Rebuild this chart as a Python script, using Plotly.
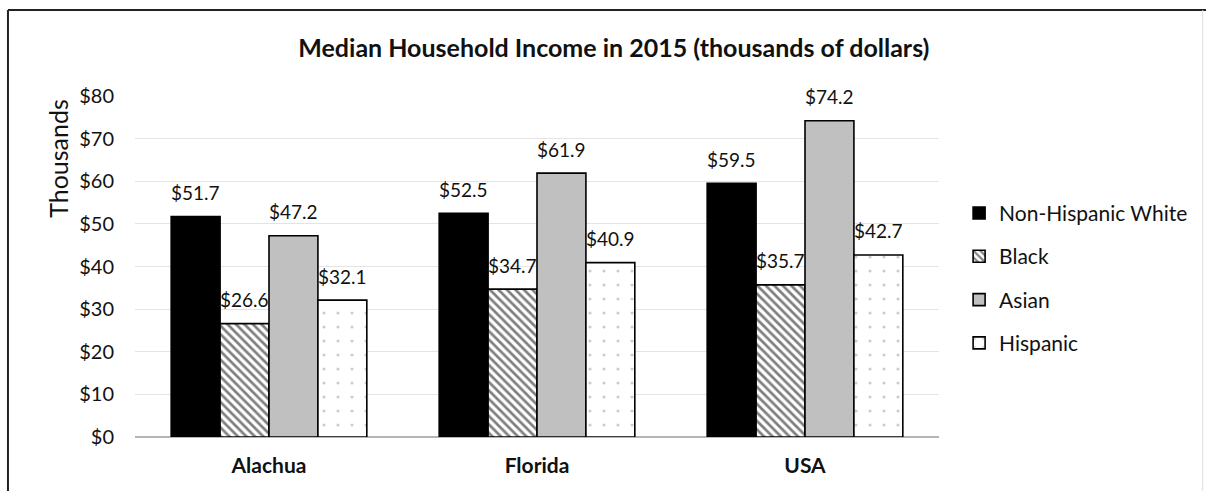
import plotly.graph_objects as go

# Median household income, 2015 (thousands of dollars)
regions = ["Alachua", "Florida", "USA"]
groups = ["Non-Hispanic White", "Black", "Asian", "Hispanic"]
white = [51.7, 52.5, 59.5]
black = [26.6, 34.7, 35.7]
asian = [47.2, 61.9, 74.2]
hispanic = [32.1, 40.9, 42.7]
y_ticks = [0, 10, 20, 30, 40, 50, 60, 70, 80]
y_tick_text = ["$0", "$10", "$20", "$30", "$40", "$50", "$60", "$70", "$80"]

series = [white, black, asian, hispanic]

FONT = "Lato"
INK = "#111111"

styles = [
    dict(color="#000000", pattern=dict(shape="")),
    dict(color="#ffffff", pattern=dict(shape="\\", fgcolor="#000000", bgcolor="#ffffff",
                                       size=6, solidity=0.45)),
    dict(color="#c0c0c0", pattern=dict(shape="")),
    dict(color="#ffffff", pattern=dict(shape=".", fgcolor="#9a9a9a", bgcolor="#ffffff",
                                       size=14, solidity=0.04)),
]

fig = go.Figure()
for i, (name, vals, st) in enumerate(zip(groups, series, styles)):
    fig.add_trace(go.Bar(
        x=regions, y=vals, name=name, legendgroup=name,
        marker=dict(color=st["color"], pattern=st["pattern"],
                    line=dict(color="#000000", width=1.6)),
        hoverinfo="x+y",
    ))

# value labels centred over each bar
plot_w = 1206 - 135 - 267
bargap = 0.27
bar_px = plot_w / len(regions) * (1 - bargap) / len(groups)
annotations = []
for i, vals in enumerate(series):
    offset = (i - (len(groups) - 1) / 2) * bar_px
    for reg, v in zip(regions, vals):
        annotations.append(dict(
            x=reg, y=v, xref="x", yref="y", text=f"${v:.1f}",
            showarrow=False, xshift=offset, yshift=24,
            font=dict(family=FONT, size=19, color=INK),
        ))

# vertical axis caption, set high on the left
annotations.append(dict(
    x=-0.096, xref="paper", xanchor="center",
    y=(437 - 158) / 341, yref="paper", yanchor="middle",
    text="Thousands", textangle=-90, showarrow=False,
    font=dict(family=FONT, size=25, color=INK),
))

fig.update_layout(
    width=1206, height=491,
    margin=dict(l=135, r=267, t=96, b=54),
    paper_bgcolor="#ffffff", plot_bgcolor="#ffffff",
    barmode="group", bargap=bargap, bargroupgap=0,
    title=dict(text="<b>Median Household Income in 2015 (thousands of dollars)</b>",
               x=0.509, xanchor="center", y=0.902, yanchor="middle",
               font=dict(family=FONT, size=25, color=INK)),
    font=dict(family=FONT, color=INK),
    legend=dict(x=1.025, xanchor="left", y=0.716, yanchor="top",
                font=dict(family=FONT, size=21, color=INK),
                tracegroupgap=13, traceorder="grouped",
                bgcolor="rgba(0,0,0,0)"),
    annotations=annotations,
    shapes=[
        dict(type="line", xref="paper", yref="paper",
             x0=-0.158, x1=1.34, y0=1.252, y1=1.252,
             line=dict(color="#222222", width=2)),
        dict(type="line", xref="paper", yref="paper",
             x0=-0.158, x1=-0.158, y0=1.252, y1=-0.17,
             line=dict(color="#222222", width=2)),
        dict(type="line", xref="paper", yref="paper",
             x0=1.328, x1=1.328, y0=1.252, y1=-0.17,
             line=dict(color="#dddddd", width=1)),
    ],
)

fig.update_xaxes(
    tickfont=dict(family=FONT, size=21, color=INK),
    tickvals=regions, ticktext=[f"<b>{r}</b>" for r in regions],
    showline=False, ticks="", showgrid=False, ticklabelstandoff=14,
)
fig.update_yaxes(
    range=[0, 80], tickvals=y_ticks, ticktext=y_tick_text,
    tickfont=dict(family=FONT, size=20, color=INK),
    showgrid=True, gridcolor="#e4e4e4", gridwidth=1,
    zeroline=True, zerolinecolor="#b5b5b5", zerolinewidth=1.5,
    ticks="", ticklabelstandoff=20,
)

fig.write_html("out.html")
